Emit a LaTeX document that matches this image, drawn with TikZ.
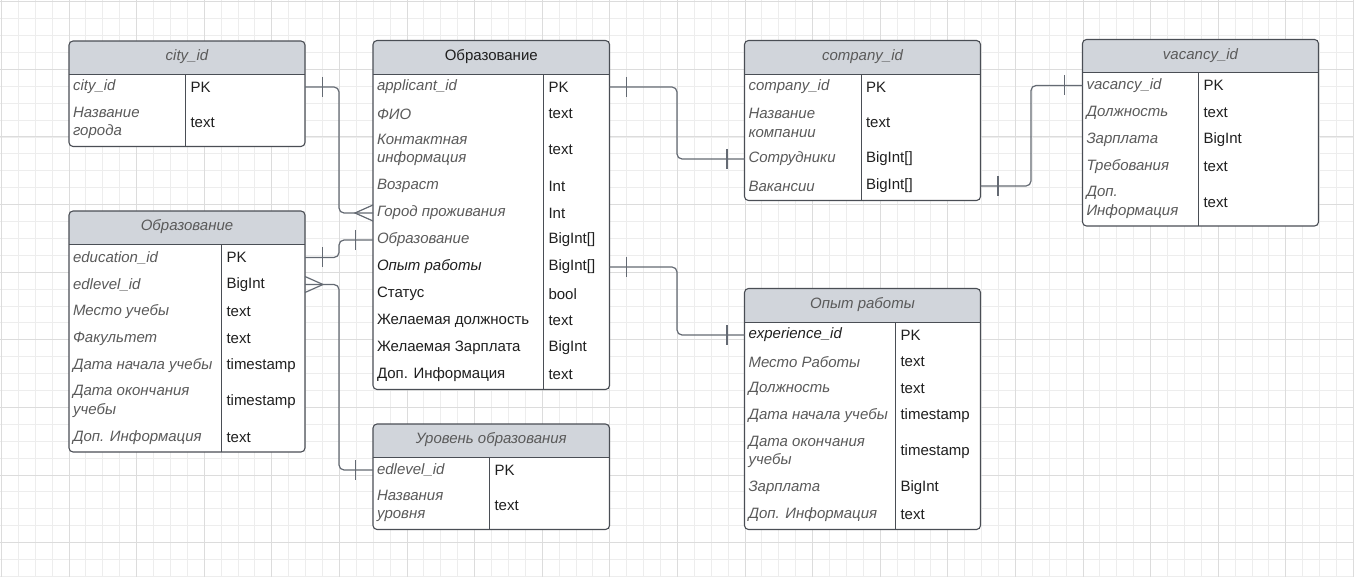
\documentclass[tikz,border=0pt]{standalone}
\usepackage{fontspec}
\setmainfont{Liberation Sans}
\usetikzlibrary{calc}
\definecolor{gridmin}{HTML}{EDEDED}
\definecolor{gridmaj}{HTML}{DCDCDC}
\definecolor{hdrfill}{HTML}{D1D5DB}
\definecolor{edgec}{HTML}{4A4E55}
\definecolor{linkc}{HTML}{646A73}
\definecolor{gtxt}{HTML}{5A5A5A}
\definecolor{btxt}{HTML}{1F1F1F}
\tikzset{
 fcell/.style={inner xsep=4pt, inner ysep=0pt, outer sep=0pt, yshift=1pt, align=left, text=gtxt, font=\fontsize{15}{18.3}\selectfont\itshape},
 tcell/.style={inner xsep=5pt, inner ysep=0pt, outer sep=0pt, yshift=1pt, align=left, text=btxt, font=\fontsize{15}{18.3}\selectfont},
 blackit/.style={text=btxt},
 upright/.style={text=btxt, font=\fontsize{15}{18.3}\selectfont\upshape},
 hdr/.style={text=gtxt, font=\fontsize{15}{18.3}\selectfont\itshape, inner sep=0pt},
 hdrup/.style={text=btxt, font=\fontsize{15}{18.3}\selectfont, inner sep=0pt},
 tbl/.style={draw=edgec, line width=1.1pt, rounded corners=4pt},
 sepline/.style={draw=edgec, line width=1pt},
 conn/.style={draw=linkc, line width=1.2pt, rounded corners=5pt},
 tickline/.style={draw=linkc, line width=1.2pt},
 gmin/.style={draw=gridmin, line width=0.9pt},
 gmaj/.style={draw=gridmaj, line width=1pt},
}
% frame: L, T, R, H(header bottom), B, D(divider)
\newcommand\ertbl[6]{%
 \fill[white, rounded corners=4pt] (#1,#2) rectangle (#3,#5);
 \begin{scope}\clip[rounded corners=4pt] (#1,#2) rectangle (#3,#5);
 \fill[hdrfill] (#1,#2) rectangle (#3,#4);\end{scope}
 \draw[sepline] (#1,#4) -- (#3,#4);
 \draw[sepline] (#6,#4) -- (#6,#5);
 \draw[tbl] (#1,#2) rectangle (#3,#5);
}
% row: name, L, D, R, ytop, height, style, field, type
\newcommand\erow[9]{%
 \pgfmathsetmacro\erwb{#4-#3-10}%
 \node[fcell,#7,minimum height=#6pt,anchor=north west] (#1) at (#2,#5) {#8};
 \node[tcell,text width=\erwb pt,minimum height=#6pt,anchor=north west] (#1t) at (#3,#5) {#9};
}
\begin{document}
\begin{tikzpicture}[x=1pt,y=-1pt]
\useasboundingbox (0,0) rectangle (1354,577);
\fill[white] (0,0) rectangle (1354,577);
% grid
\foreach \i in {0,...,80} {\draw[gmin] ({1.4+16.9*\i},0) -- ({1.4+16.9*\i},577);}
\foreach \j in {0,...,34} {\draw[gmin] (0,{1.8+16.9*\j}) -- (1354,{1.8+16.9*\j});}
\foreach \i in {0,4,...,80} {\draw[gmaj] ({1.4+16.9*\i},0) -- ({1.4+16.9*\i},577);}
\foreach \j in {0,4,...,32} {\draw[gmaj] (0,{1.8+16.9*\j}) -- (1354,{1.8+16.9*\j});}

% city
\ertbl{69}{41}{305}{74.5}{146.5}{185.5}
\node[hdr] (C) at (187,57) {city\_id};
\erow{c1}{69}{185.5}{305}{74.5}{27}{}{city\_id}{PK}
\erow{c2}{69}{185.5}{305}{101.5}{45}{}{Название\\города}{text}

% education
\ertbl{69}{211}{305}{245}{452}{221.5}
\node[hdr] (E) at (187,227) {Образование};
\erow{e1}{69}{221.5}{305}{245}{27}{}{education\_id}{PK}
\erow{e2}{69}{221.5}{305}{272}{27}{}{edlevel\_id}{BigInt}
\erow{e3}{69}{221.5}{305}{299}{27}{}{Место учебы}{text}
\erow{e4}{69}{221.5}{305}{326}{27}{}{Факультет}{text}
\erow{e5}{69}{221.5}{305}{353}{27}{}{Дата начала учебы}{timestamp}
\erow{e6}{69}{221.5}{305}{380}{45}{}{Дата окончания\\учебы}{timestamp}
\erow{e7}{69}{221.5}{305}{425}{27}{}{Доп. Информация}{text}

% applicant
\ertbl{373}{40.5}{609.5}{74.5}{389.5}{543.5}
\node[hdrup] (A) at (491.25,56.5) {Образование};
\erow{a1}{373}{543.5}{609.5}{74.5}{27}{}{applicant\_id}{PK}
\erow{a2}{373}{543.5}{609.5}{101.5}{27}{}{ФИО}{text}
\erow{a3}{373}{543.5}{609.5}{128.5}{45}{}{Контактная\\информация}{text}
\erow{a4}{373}{543.5}{609.5}{173.5}{27}{}{Возраст}{Int}
\erow{a5}{373}{543.5}{609.5}{200.5}{27}{}{Город проживания}{Int}
\erow{a6}{373}{543.5}{609.5}{227.5}{27}{}{Образование}{BigInt[]}
\erow{a7}{373}{543.5}{609.5}{254.5}{27}{blackit}{Опыт работы}{BigInt[]}
\erow{a8}{373}{543.5}{609.5}{281.5}{27}{upright}{Статус}{bool}
\erow{a9}{373}{543.5}{609.5}{308.5}{27}{upright}{Желаемая должность}{text}
\erow{a10}{373}{543.5}{609.5}{335.5}{27}{upright}{Желаемая Зарплата}{BigInt}
\erow{a11}{373}{543.5}{609.5}{362.5}{27}{upright}{Доп. Информация}{text}

% level
\ertbl{373}{424}{609.5}{457.5}{529.5}{489.5}
\node[hdr] (L) at (491.25,440) {Уровень образования};
\erow{l1}{373}{489.5}{609.5}{457.5}{27}{}{edlevel\_id}{PK}
\erow{l2}{373}{489.5}{609.5}{484.5}{45}{}{Названия\\уровня}{text}

% company
\ertbl{744.5}{40.5}{980.5}{74.5}{200.5}{861}
\node[hdr] (K) at (862.5,56.5) {company\_id};
\erow{k1}{744.5}{861}{980.5}{74.5}{27}{}{company\_id}{PK}
\erow{k2}{744.5}{861}{980.5}{101.5}{45}{}{Название\\компании}{text}
\erow{k3}{744.5}{861}{980.5}{146.5}{27}{}{Сотрудники}{BigInt[]}
\erow{k4}{744.5}{861}{980.5}{173.5}{27}{}{Вакансии}{BigInt[]}

% vacancy
\ertbl{1082.5}{39.5}{1318.5}{73}{226}{1198.5}
\node[hdr] (V) at (1200.5,55.5) {vacancy\_id};
\erow{v1}{1082.5}{1198.5}{1318.5}{73}{27}{}{vacancy\_id}{PK}
\erow{v2}{1082.5}{1198.5}{1318.5}{100}{27}{}{Должность}{text}
\erow{v3}{1082.5}{1198.5}{1318.5}{127}{27}{}{Зарплата}{BigInt}
\erow{v4}{1082.5}{1198.5}{1318.5}{154}{27}{}{Требования}{text}
\erow{v5}{1082.5}{1198.5}{1318.5}{181}{45}{}{Доп.\\Информация}{text}

% experience
\ertbl{744.5}{288.5}{980.5}{322.5}{529.5}{895.5}
\node[hdr] (X) at (862.5,304.5) {Опыт работы};
\erow{x1}{744.5}{895.5}{980.5}{322.5}{27}{blackit}{experience\_id}{PK}
\erow{x2}{744.5}{895.5}{980.5}{349.5}{27}{}{Место Работы}{text}
\erow{x3}{744.5}{895.5}{980.5}{376.5}{27}{}{Должность}{text}
\erow{x4}{744.5}{895.5}{980.5}{403.5}{27}{}{Дата начала учебы}{timestamp}
\erow{x5}{744.5}{895.5}{980.5}{430.5}{45}{}{Дата окончания\\учебы}{timestamp}
\erow{x6}{744.5}{895.5}{980.5}{475.5}{27}{}{Зарплата}{BigInt}
\erow{x7}{744.5}{895.5}{980.5}{502.5}{27}{}{Доп. Информация}{text}

% connectors
\coordinate (j1) at (339,0);
\coordinate (j2) at (677,0);
\coordinate (j3) at (1031,0);

\draw[conn] (c1t.east) -| (j1 |- a5.west) -- (a5.west);
\draw[tickline] ($(c1t.east)+(17.5,-10)$) -- ($(c1t.east)+(17.5,10)$);
\draw[tickline] ($(a5.west)+(0,-8)$) -- ($(a5.west)+(-18,0)$) -- ($(a5.west)+(0,8)$);

\draw[conn] (e1t.east) -| (j1 |- a6.west) -- (a6.west);
\draw[tickline] ($(e1t.east)+(17.5,-10)$) -- ($(e1t.east)+(17.5,10)$);
\draw[tickline] ($(a6.west)+(-17.5,-10)$) -- ($(a6.west)+(-17.5,10)$);

\draw[conn] (e2t.east) -| (j1 |- l1.west) -- (l1.west);
\draw[tickline] ($(e2t.east)+(0,-8)$) -- ($(e2t.east)+(18,0)$) -- ($(e2t.east)+(0,8)$);
\draw[tickline] ($(l1.west)+(-17.5,-10)$) -- ($(l1.west)+(-17.5,10)$);

\draw[conn] (a1t.east) -| (j2 |- k3.west) -- (k3.west);
\draw[tickline] ($(a1t.east)+(17,-10)$) -- ($(a1t.east)+(17,10)$);
\draw[tickline] ($(k3.west)+(-17.5,-10)$) -- ($(k3.west)+(-17.5,10)$);

\draw[conn] (a7t.east) -| (j2 |- x1.west) -- (x1.west);
\draw[tickline] ($(a7t.east)+(17,-10)$) -- ($(a7t.east)+(17,10)$);
\draw[tickline] ($(x1.west)+(-17.5,-10)$) -- ($(x1.west)+(-17.5,10)$);

\draw[conn] (k4t.east) -| (j3 |- v1.west) -- (v1.west);
\draw[tickline] ($(k4t.east)+(17.5,-10)$) -- ($(k4t.east)+(17.5,10)$);
\draw[tickline] ($(v1.west)+(-18,-10)$) -- ($(v1.west)+(-18,10)$);
\end{tikzpicture}
\end{document}
